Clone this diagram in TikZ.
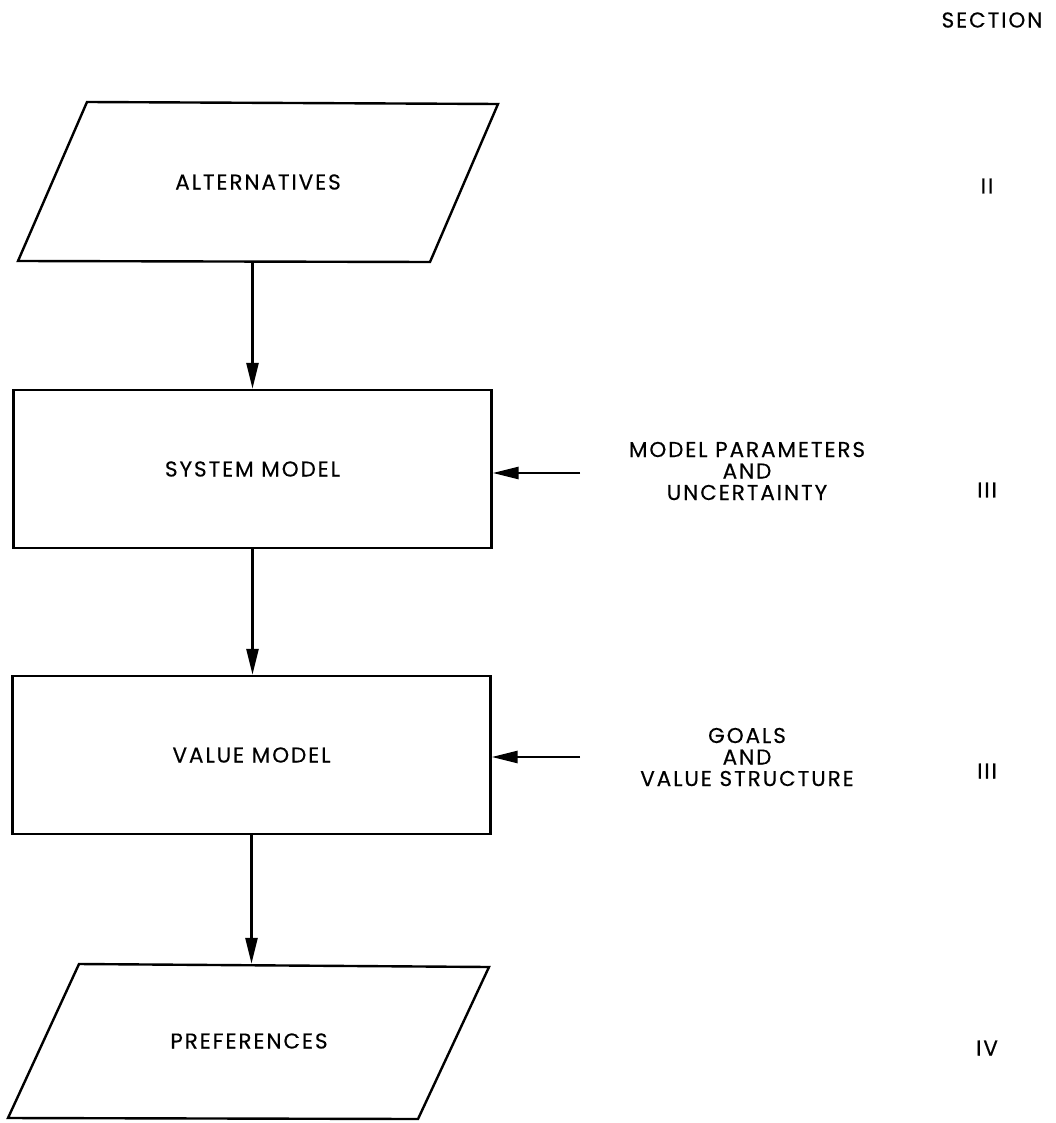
\documentclass[tikz,border=0pt]{standalone}
\usepackage{fontspec}
\setmainfont{Poppins}[LetterSpace=9,FakeBold=0.4]
\usetikzlibrary{arrows.meta}
\begin{document}
\begin{tikzpicture}[x=1pt,y=-1pt,
  every node/.style={font=\fontsize{21.5}{21.5}\selectfont},
  outline/.style={draw=black,line width=2.4pt,line join=miter},
  flow/.style={draw=black,line width=2.8pt,-{Triangle[length=26pt,width=12pt]}},
  block/.style={draw=black,line width=2.4pt,minimum width=478pt,minimum height=158pt,inner sep=0pt},
  label/.style={align=center,inner sep=0pt},
  sect/.style={inner sep=0pt}]
\useasboundingbox (0,0) rectangle (1056,1123);

% input and output parallelograms
\draw[outline] (87,102) -- (498,104) -- (430,262) -- (18,261) -- cycle;
\node[inner sep=0pt,minimum width=260pt,minimum height=159pt] (alt) at (258,182) {ALTERNATIVES};

\draw[outline] (79,964) -- (489,967) -- (418,1119) -- (8,1118) -- cycle;
\node[inner sep=0pt,minimum width=260pt,minimum height=154pt] (pref) at (249,1041) {PREFERENCES};

% model blocks
\node[block] (sys) at (252.5,469) {SYSTEM MODEL};
\node[block] (val) at (251.5,755) {VALUE MODEL};

% side inputs
\node[label] (par) at (747,471) {MODEL PARAMETERS\\AND\\UNCERTAINTY};
\node[label] (goal) at (747,757) {GOALS\\AND\\VALUE STRUCTURE};
\coordinate (pin) at (580,473);
\coordinate (gin) at (580,757);

% section column
\node[sect] (sec) at (992,20) {SECTION};
\node[sect] (s2) at (987,186) {II};
\node[sect] (s3a) at (987,490) {III};
\node[sect] (s3b) at (987,771) {III};
\node[sect] (s4) at (987,1048) {IV};

% flow arrows
\draw[flow] (sys.north |- alt.south) -- (sys.north);
\draw[flow] (sys.south) -- (val.north -| sys.south);
\draw[flow] (val.south) -- (pref.north -| val.south);
\draw[flow] (pin) -- (sys.east |- pin);
\draw[flow] (gin) -- (val.east |- gin);
\end{tikzpicture}
\end{document}
